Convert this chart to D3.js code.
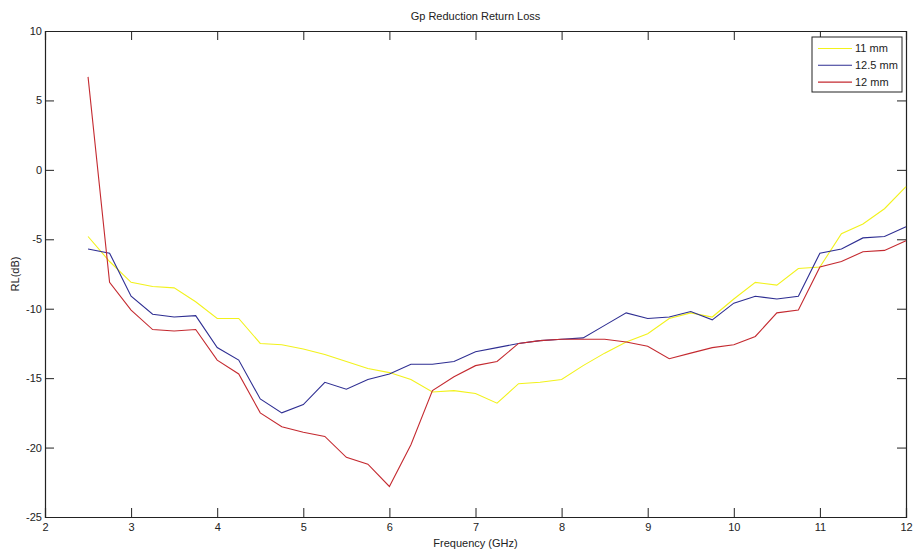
<!DOCTYPE html>
<html>
<head>
<meta charset="utf-8">
<script src="https://cdn.jsdelivr.net/npm/d3@7"></script>
<style>
  body { margin: 0; background: #fff; }
  svg { display: block; font-family: "Liberation Sans", Arial, sans-serif; }
  .axis path, .axis line { stroke: #222; }
  .axis text { font-size: 11px; fill: #222; }
  .label { font-size: 11px; fill: #222; }
</style>
</head>
<body>
<div id="chart"></div>
<script>
var freq = [2.5, 2.75, 3, 3.25, 3.5, 3.75, 4, 4.25, 4.5, 4.75, 5, 5.25, 5.5, 5.75, 6, 6.25, 6.5, 6.75, 7, 7.25,
            7.5, 7.75, 8, 8.25, 8.5, 8.75, 9, 9.25, 9.5, 9.75, 10, 10.25, 10.5, 10.75, 11, 11.25, 11.5, 11.75, 12];

var rl11 = [-4.8, -6.6, -8.1, -8.4, -8.5, -9.5, -10.7, -10.7, -12.5, -12.6, -12.9, -13.3, -13.8, -14.3, -14.6, -15.1, -16.0, -15.9, -16.1, -16.8,
            -15.4, -15.3, -15.1, -14.1, -13.2, -12.4, -11.8, -10.7, -10.3, -10.6, -9.3, -8.1, -8.3, -7.1, -7.0, -4.6, -3.9, -2.8, -1.2];

var rl125 = [-5.7, -6.0, -9.1, -10.4, -10.6, -10.5, -12.8, -13.7, -16.5, -17.5, -16.9, -15.3, -15.8, -15.1, -14.7, -14.0, -14.0, -13.8, -13.1, -12.8,
             -12.5, -12.3, -12.2, -12.1, -11.2, -10.3, -10.7, -10.6, -10.2, -10.8, -9.6, -9.1, -9.3, -9.1, -6.0, -5.7, -4.9, -4.8, -4.1];

var rl12 = [6.7, -8.1, -10.1, -11.5, -11.6, -11.5, -13.7, -14.7, -17.5, -18.5, -18.9, -19.2, -20.7, -21.2, -22.8, -19.8, -15.9, -14.9, -14.1, -13.8,
            -12.5, -12.3, -12.2, -12.2, -12.2, -12.4, -12.7, -13.6, -13.2, -12.8, -12.6, -12.0, -10.3, -10.1, -7.0, -6.6, -5.9, -5.8, -5.1];

var seriesNames = ["11 mm", "12.5 mm", "12 mm"];
var seriesColors = ["#f2f21c", "#2e2e92", "#c42a30"];
var xTicks = [2, 3, 4, 5, 6, 7, 8, 9, 10, 11, 12];
var yTicks = [10, 5, 0, -5, -10, -15, -20, -25];

var W = 913, H = 550;
var margin = {top: 31, right: 7, bottom: 33, left: 45};
var width = W - margin.left - margin.right;
var height = H - margin.top - margin.bottom;

var svg = d3.select("#chart").append("svg")
            .attr("width", W)
            .attr("height", H);

var g = svg.append("g")
           .attr("transform", "translate(" + margin.left + "," + margin.top + ")");

var x = d3.scaleLinear().domain([2, 12]).range([0, width]);
var y = d3.scaleLinear().domain([-25, 10]).range([height, 0]);

// plain hyphen minus like matlab
var fmt = (d) => String(d);

// axes, ticks drawn inward like matlab
g.append("g").attr("class", "axis")
   .attr("transform", "translate(0," + height + ")")
   .call(d3.axisBottom(x).tickValues(xTicks).tickSize(-9).tickPadding(6).tickFormat(fmt));

g.append("g").attr("class", "axis")
   .call(d3.axisTop(x).tickValues(xTicks).tickSize(-9).tickFormat(""));

g.append("g").attr("class", "axis")
   .call(d3.axisLeft(y).tickValues(yTicks).tickSize(-9).tickPadding(3).tickFormat(fmt));

g.append("g").attr("class", "axis")
   .attr("transform", "translate(" + width + ",0)")
   .call(d3.axisRight(y).tickValues(yTicks).tickSize(-9).tickFormat(""));

g.selectAll(".axis .domain").attr("stroke-width", 1.2);

var series = [rl11, rl125, rl12];

var line = d3.line()
             .x((d, i) => x(freq[i]))
             .y((d) => y(d));

g.selectAll(".series").data(series).enter()
   .append("path")
   .attr("class", "series")
   .attr("fill", "none")
   .attr("stroke", (d, i) => seriesColors[i])
   .attr("stroke-width", 1.1)
   .attr("d", line);

// title and axis labels
svg.append("text").attr("class", "label")
   .attr("x", margin.left + width / 2).attr("y", 20)
   .attr("text-anchor", "middle")
   .text("Gp Reduction Return Loss");

svg.append("text").attr("class", "label")
   .attr("x", margin.left + width / 2).attr("y", 547)
   .attr("text-anchor", "middle")
   .text("Frequency (GHz)");

svg.append("text").attr("class", "label")
   .attr("transform", "translate(19," + (margin.top + height / 2) + ") rotate(-90)")
   .attr("text-anchor", "middle")
   .text("RL(dB)");

// legend
var legend = svg.append("g").attr("transform", "translate(812,37)");
legend.append("rect")
      .attr("width", 90).attr("height", 55)
      .attr("fill", "#fff").attr("stroke", "#222");

var items = legend.selectAll(".item").data(seriesNames).enter()
                  .append("g")
                  .attr("transform", (d, i) => "translate(0," + (11.5 + i * 16.8) + ")");
items.append("line")
     .attr("x1", 6).attr("x2", 40)
     .attr("stroke", (d, i) => seriesColors[i])
     .attr("stroke-width", 1.1);
items.append("text").attr("class", "label")
     .attr("x", 43).attr("dy", "0.35em")
     .text((d) => d);
</script>
</body>
</html>
